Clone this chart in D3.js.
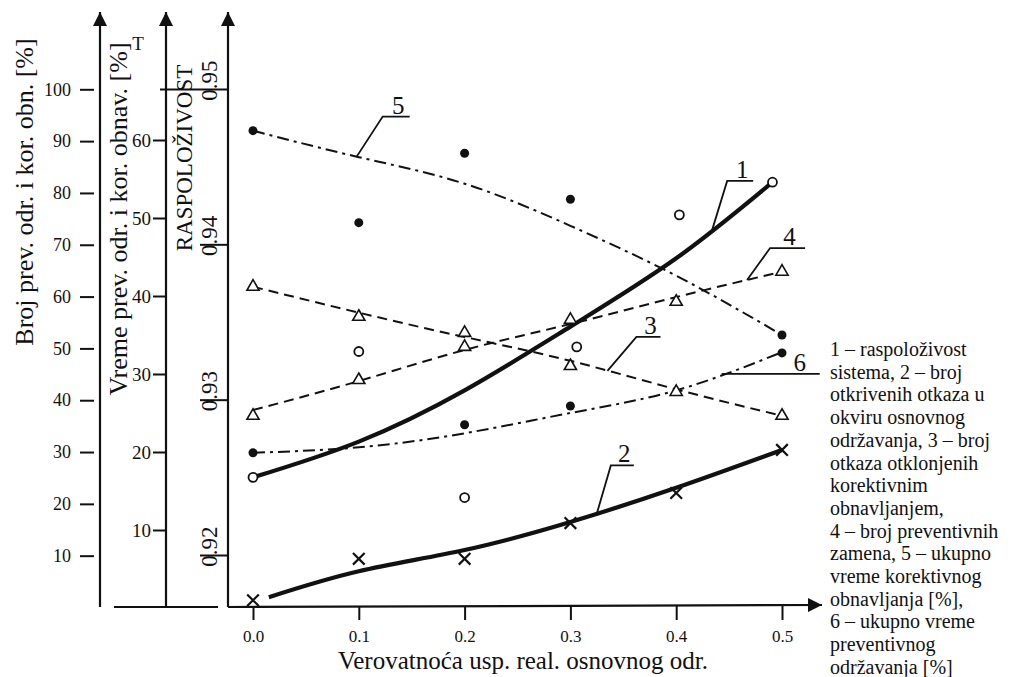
<!DOCTYPE html>
<html>
<head>
<meta charset="utf-8">
<script src="https://cdn.jsdelivr.net/npm/d3@7"></script>
<style>
  body { margin: 0; background: #fff; }
  svg { display: block; }
</style>
</head>
<body>
<svg></svg>
<script>
// graf: raspolozivost i broj/vreme odrzavanja u funkciji verovatnoce

const WIDTH = 1026;
const HEIGHT = 677;
const FONT = '"Liberation Serif", "Times New Roman", serif';
const INK = '#111';

// ose
const xTicks = [0, 0.1, 0.2, 0.3, 0.4, 0.5];
const brojTicks = [10, 20, 30, 40, 50, 60, 70, 80, 90, 100];
const vremeTicks = [10, 20, 30, 40, 50, 60];
const raspTicks = [0.92, 0.93, 0.94, 0.95];

// 1 - raspolozivost sistema (desna skala)
const s1X = [0, 0.1, 0.2, 0.306, 0.403, 0.491];
const s1Pts = [0.9250, 0.9331, 0.9237, 0.9334, 0.9419, 0.9440];
const s1FitX = [0, 0.1, 0.2, 0.3, 0.4, 0.491];
const s1Fit = [0.9250, 0.9273, 0.9306, 0.9347, 0.9391, 0.9440];

// 2 - broj otkrivenih otkaza (Broj skala)
const s2X = [0, 0.1, 0.2, 0.3, 0.4, 0.5];
const s2Pts = [1.4, 9.4, 9.4, 16.3, 22.1, 30.4];
const s2FitX = [0.015, 0.1, 0.2, 0.3, 0.4, 0.5];
const s2Fit = [2.0, 7.0, 11.1, 16.5, 23.1, 30.4];

// 3 - broj otkaza otklonjenih korektivnim obnavljanjem
const s3Pts = [61.9, 56.1, 53.0, 46.6, 41.6, 37.0];
const s3Fit = [61.9, 56.9, 52.2, 47.6, 42.1, 37.0];

// 4 - broj preventivnih zamena
const s4Pts = [37.0, 43.9, 50.3, 55.5, 59.0, 64.8];
const s4Fit = [38.1, 43.7, 49.7, 54.7, 59.9, 64.8];

// 5 - ukupno vreme korektivnog obnavljanja (Vreme skala)
const s5Pts = [61.2, 49.4, 58.3, 52.4, null, 35.0];
const s5Fit = [61.2, 57.8, 54.4, 49.0, 42.6, 35.0];

// 6 - ukupno vreme preventivnog odrzavanja
const s6Pts = [19.9, null, 23.5, 25.9, null, 32.7];
const s6Fit = [19.9, 20.6, 22.4, 25.0, 27.9, 32.8];

const legendLines = [
  '1 \u2013 raspolo\u017eivost',
  'sistema, 2 \u2013 broj',
  'otkrivenih otkaza u',
  'okviru osnovnog',
  'odr\u017eavanja, 3 \u2013 broj',
  'otkaza otklonjenih',
  'korektivnim',
  'obnavljanjem,',
  '4 \u2013 broj preventivnih',
  'zamena, 5 \u2013 ukupno',
  'vreme korektivnog',
  'obnavljanja [%],',
  '6 \u2013 ukupno vreme',
  'preventivnog',
  'odr\u017eavanja [%]'
];

const svg = d3.select('svg')
  .attr('width', WIDTH)
  .attr('height', HEIGHT)
  .attr('font-family', FONT);

svg.append('rect').attr('width', WIDTH).attr('height', HEIGHT).attr('fill', '#fff');

svg.append('defs').append('marker')
  .attr('id', 'arrow')
  .attr('viewBox', '0 0 10 10')
  .attr('refX', 10).attr('refY', 5)
  .attr('markerUnits', 'userSpaceOnUse')
  .attr('markerWidth', 18).attr('markerHeight', 14)
  .attr('orient', 'auto')
  .append('path')
  .attr('d', 'M0,0 L10,5 L0,10 Z')
  .attr('fill', INK);

// skale
const x = d3.scaleLinear().domain([0, 0.5]).range([253, 782]);
const yBroj = d3.scaleLinear().domain([0, 100]).range([607.5, 89.3]);
const yVreme = d3.scaleLinear().domain([0, 60]).range([608, 140]);
const yRasp = d3.scaleLinear().domain([0.92, 0.95]).range([555, 89]);

const AX1 = 100, AX2 = 166, AX3 = 228, BASE = 607;

function vline(xp, y0, y1) {
  svg.append('line')
    .attr('x1', xp).attr('x2', xp).attr('y1', y0).attr('y2', y1)
    .attr('stroke', INK).attr('stroke-width', 2.2)
    .attr('marker-end', 'url(#arrow)');
}

function styleAxis(g, size) {
  g.select('.domain').remove();
  g.selectAll('.tick line').attr('stroke', INK).attr('stroke-width', 2);
  g.selectAll('.tick text').attr('fill', INK).attr('font-size', size).attr('font-family', FONT);
}

// osa 1 - Broj
vline(AX1, BASE, 12);
svg.append('g')
  .attr('transform', `translate(${AX1 - 6},0)`)
  .call(d3.axisLeft(yBroj).tickValues(brojTicks).tickSize(14).tickPadding(9))
  .call(g => styleAxis(g, 18));

// osa 2 - Vreme
vline(AX2, BASE, 12);
svg.append('g')
  .attr('transform', `translate(${AX2},0)`)
  .call(d3.axisLeft(yVreme).tickValues(vremeTicks).tickSize(13).tickPadding(2))
  .call(g => styleAxis(g, 19));

// osa 3 - Raspolozivost
vline(AX3, BASE, 12);
const raspAxis = svg.append('g')
  .attr('transform', `translate(${AX3},0)`)
  .call(d3.axisLeft(yRasp).tickValues(raspTicks).tickSize(28).tickFormat(d3.format('.2f')))
  .call(g => styleAxis(g, 23));
raspAxis.selectAll('.tick line').attr('x2', d => d === 0.95 ? -68 : -28);
raspAxis.selectAll('.tick text')
  .attr('transform', 'rotate(-90)')
  .attr('text-anchor', 'middle')
  .attr('dy', null)
  .attr('x', 9)
  .attr('y', -11);

// donja linija ispod leve dve ose
svg.append('line')
  .attr('x1', 114).attr('x2', 218).attr('y1', BASE).attr('y2', BASE)
  .attr('stroke', INK).attr('stroke-width', 2.2);

// x osa
svg.append('line')
  .attr('x1', AX3).attr('x2', 822).attr('y1', BASE).attr('y2', BASE - 2)
  .attr('stroke', INK).attr('stroke-width', 2.2)
  .attr('marker-end', 'url(#arrow)');
svg.append('g')
  .attr('transform', `translate(0,${BASE - 1})`)
  .call(d3.axisBottom(x).tickValues(xTicks).tickSize(14).tickPadding(10).tickFormat(d3.format('.1f')))
  .call(g => styleAxis(g, 17));

// nazivi osa
function rotLabel(txt, bx, cy, size) {
  svg.append('text')
    .attr('transform', `translate(${bx},${cy}) rotate(-90)`)
    .attr('text-anchor', 'middle')
    .attr('font-size', size)
    .attr('fill', INK)
    .text(txt);
}
rotLabel('Broj prev. odr. i kor. obn. [%]', 33, 192, 26);
rotLabel('Vreme prev. odr. i kor. obnav. [%]', 127, 219, 26);
rotLabel('RASPOLO\u017dIVOST', 192, 158, 23);

svg.append('text')
  .attr('x', 138).attr('y', 50)
  .attr('text-anchor', 'middle')
  .attr('font-size', 19)
  .attr('fill', INK)
  .text('T');

svg.append('text')
  .attr('x', 523).attr('y', 669)
  .attr('text-anchor', 'middle')
  .attr('font-size', 25)
  .attr('fill', INK)
  .text('Verovatno\u0107a usp. real. osnovnog odr.');

// krive
function drawFit(xs, vals, yScale, width, dash) {
  const pts = xs.map((d, i) => [x(d), yScale(vals[i])]);
  svg.append('path')
    .attr('d', d3.line().curve(d3.curveNatural)(pts))
    .attr('fill', 'none')
    .attr('stroke', INK)
    .attr('stroke-width', width)
    .attr('stroke-dasharray', dash);
  return pts;
}

const fit1 = drawFit(s1FitX, s1Fit, yRasp, 4.2, null);
const fit2 = drawFit(s2FitX, s2Fit, yBroj, 4.2, null);
const fit3 = drawFit(xTicks, s3Fit, yBroj, 2, '10,6');
const fit4 = drawFit(xTicks, s4Fit, yBroj, 2, '10,6');
const fit5 = drawFit(xTicks, s5Fit, yVreme, 2, '12,5,3,5');
const fit6 = drawFit(xTicks, s6Fit, yVreme, 2, '12,5,3,5');

// tacke
function drawMarks(xs, vals, yScale, type) {
  const data = xs.map((d, i) => ({ x: d, v: vals[i] })).filter(d => d.v !== null);
  const g = svg.append('g');
  if (type === 'open') {
    g.selectAll('circle').data(data).enter().append('circle')
      .attr('cx', d => x(d.x)).attr('cy', d => yScale(d.v)).attr('r', 4.5)
      .attr('fill', '#fff').attr('stroke', INK).attr('stroke-width', 1.8);
  } else if (type === 'dot') {
    g.selectAll('circle').data(data).enter().append('circle')
      .attr('cx', d => x(d.x)).attr('cy', d => yScale(d.v)).attr('r', 4.5)
      .attr('fill', INK);
  } else {
    const sym = type === 'tri' ? d3.symbolTriangle : d3.symbolX;
    g.selectAll('path').data(data).enter().append('path')
      .attr('transform', d => `translate(${x(d.x)},${yScale(d.v)})`)
      .attr('d', d3.symbol().type(sym).size(type === 'tri' ? 64 : 90))
      .attr('fill', type === 'tri' ? '#fff' : 'none')
      .attr('stroke', INK).attr('stroke-width', type === 'tri' ? 1.6 : 2.2);
  }
}

drawMarks(s1X, s1Pts, yRasp, 'open');
drawMarks(s2X, s2Pts, yBroj, 'x');
drawMarks(xTicks, s3Pts, yBroj, 'tri');
drawMarks(xTicks, s4Pts, yBroj, 'tri');
drawMarks(xTicks, s5Pts, yVreme, 'dot');
drawMarks(xTicks, s6Pts, yVreme, 'dot');

// oznake krivih (leader linije)
function yAt(pts, xv) {
  const px = x(xv);
  for (let i = 1; i < pts.length; i++) {
    if (px <= pts[i][0]) {
      const t = (px - pts[i - 1][0]) / (pts[i][0] - pts[i - 1][0]);
      return pts[i - 1][1] + t * (pts[i][1] - pts[i - 1][1]);
    }
  }
  return pts[pts.length - 1][1];
}

const leaders = [
  { id: '5', pts: fit5, at: 0.098, dx: 26, dy: -40, run: 27 },
  { id: '1', pts: fit1, at: 0.434, dx: 15, dy: -49, run: 26 },
  { id: '4', pts: fit4, at: 0.467, dx: 23, dy: -32, run: 35 },
  { id: '3', pts: fit3, at: 0.335, dx: 29, dy: -34, run: 24 },
  { id: '2', pts: fit2, at: 0.325, dx: 14, dy: -48, run: 23 },
  { id: '6', pts: fit6, at: 0.443, dx: 0, dy: 0, run: 98 }
];

leaders.forEach(l => {
  const ax = x(l.at);
  const ay = yAt(l.pts, l.at);
  const tx = ax + l.dx, ty = ay + l.dy;
  svg.append('path')
    .attr('d', `M${ax},${ay} L${tx},${ty} L${tx + l.run},${ty}`)
    .attr('fill', 'none').attr('stroke', INK).attr('stroke-width', 1.8);
  svg.append('text')
    .attr('x', l.id === '6' ? tx + l.run - 20 : tx + l.run / 2 + 2)
    .attr('y', ty - 3)
    .attr('text-anchor', 'middle')
    .attr('font-size', 25)
    .attr('fill', INK)
    .text(l.id);
});

// legenda (tekst desno)
svg.append('g')
  .selectAll('text')
  .data(legendLines)
  .enter()
  .append('text')
  .attr('x', 830)
  .attr('y', (d, i) => 356 + i * 22.7)
  .attr('font-size', 20)
  .attr('fill', INK)
  .text(d => d);
</script>
</body>
</html>
